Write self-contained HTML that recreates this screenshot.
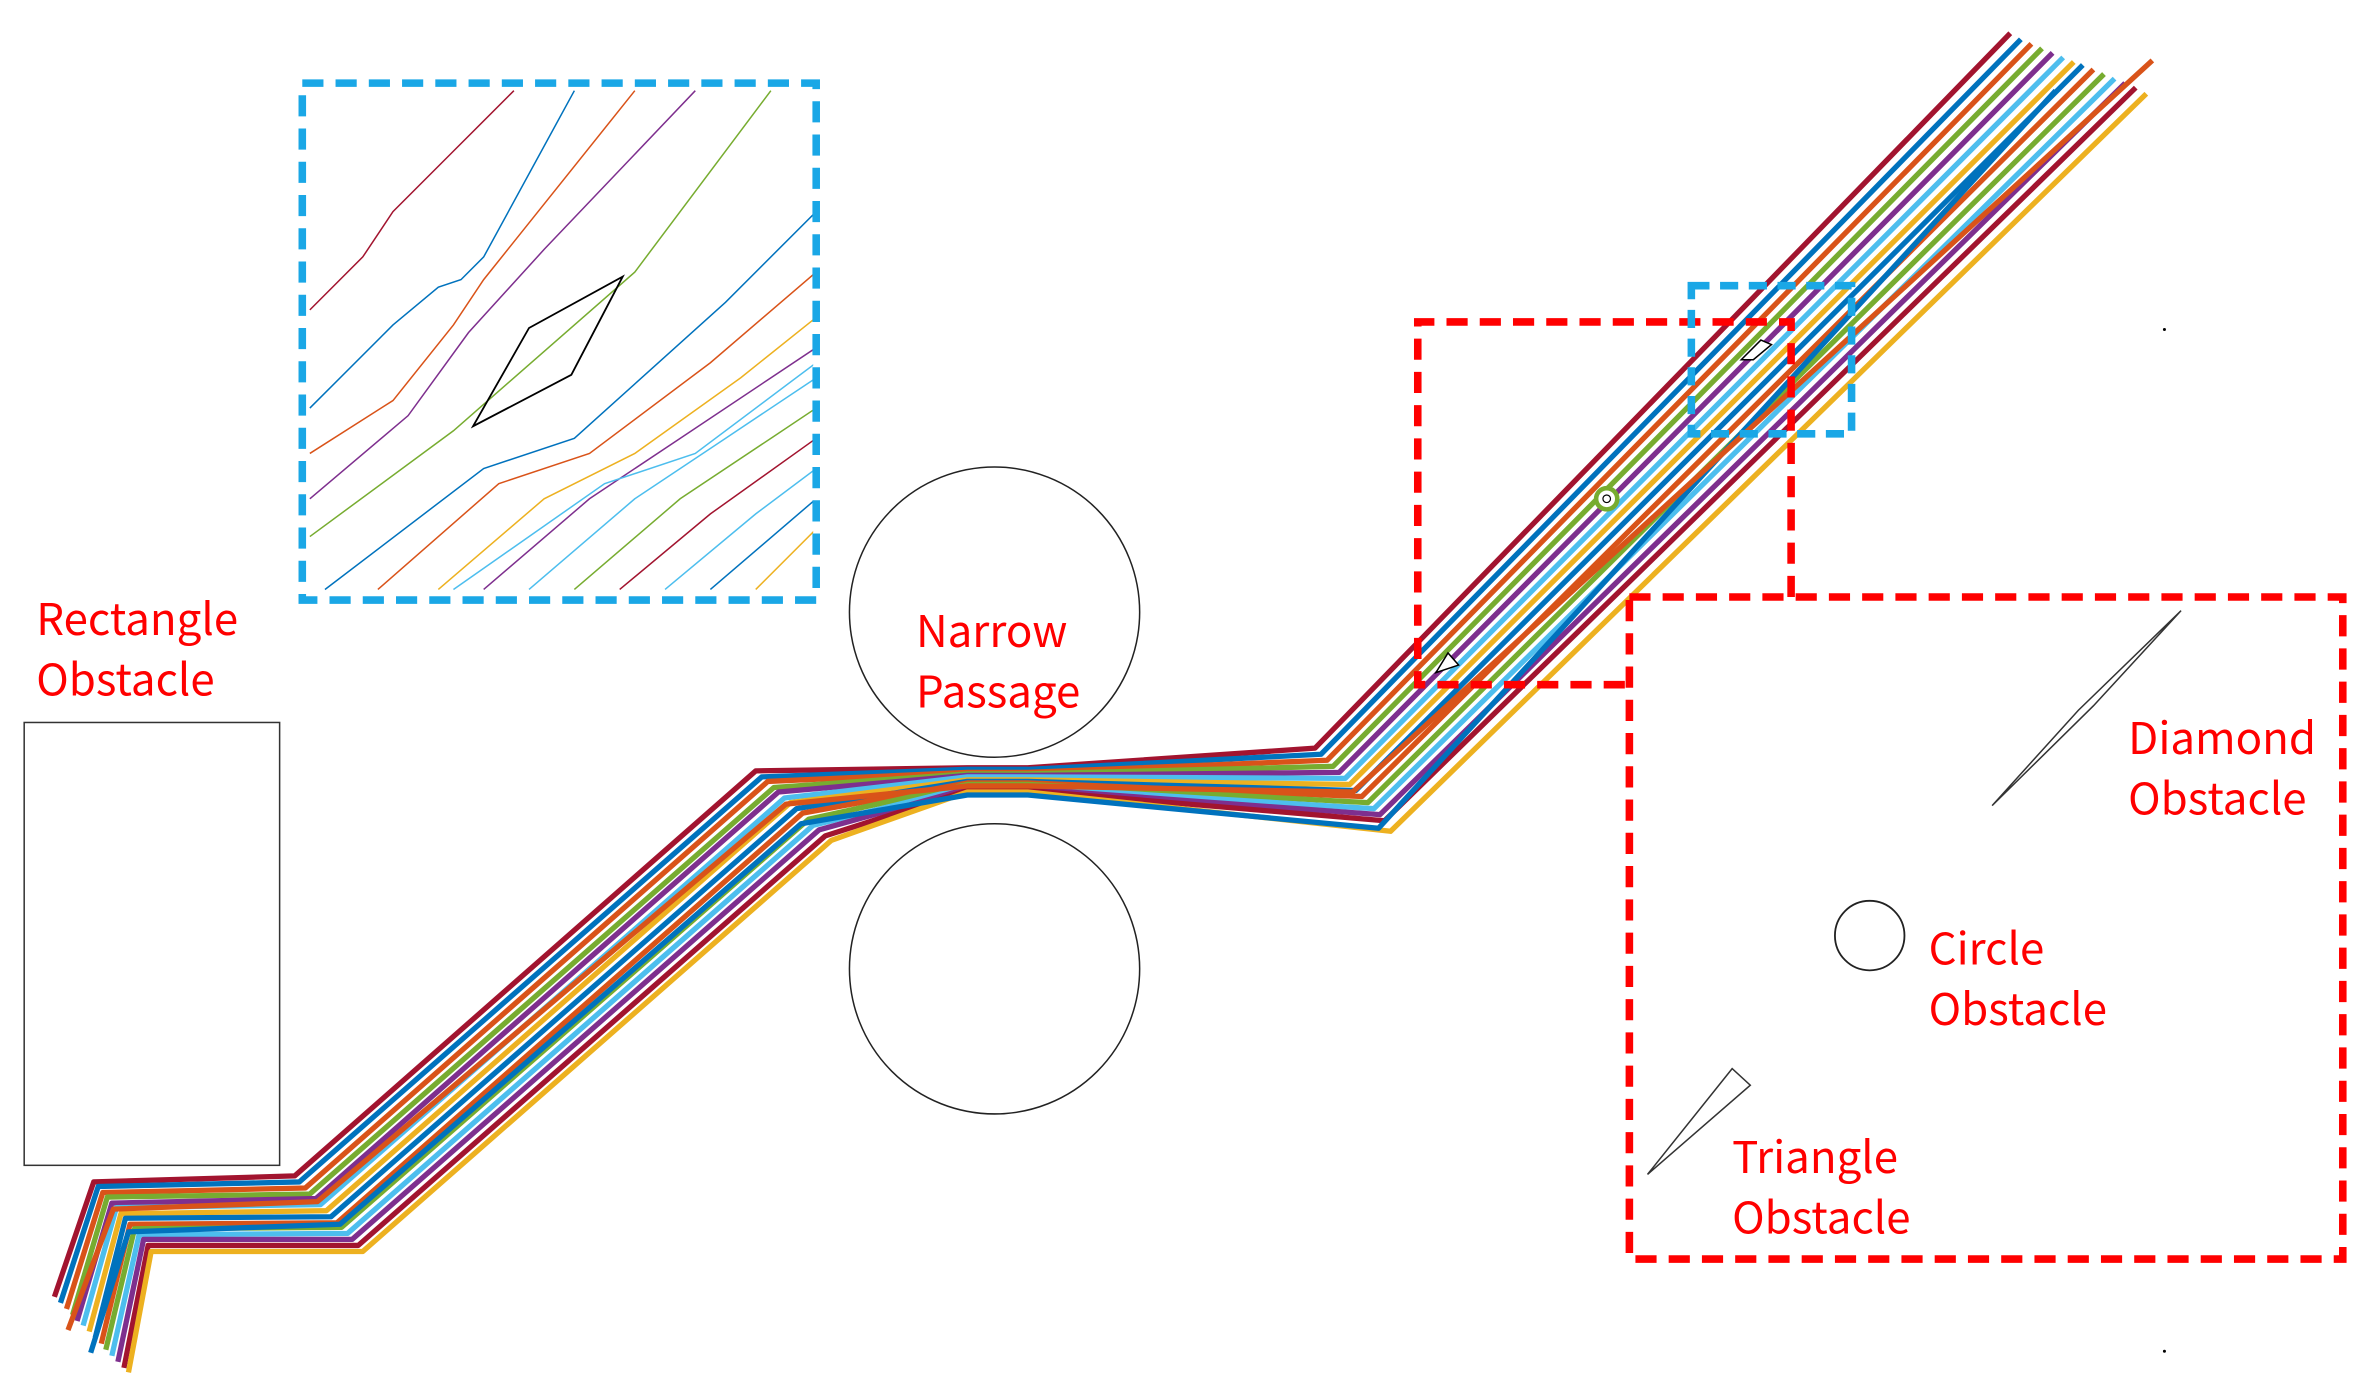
<!DOCTYPE html>
<html><head><meta charset="utf-8"><style>html,body{margin:0;padding:0;background:#fff}svg{display:block}</style></head>
<body>
<svg width="2370" height="1399" viewBox="0 0 1568 925.6" preserveAspectRatio="none" xmlns="http://www.w3.org/2000/svg">
<defs><clipPath id="c1"><rect x="202" y="57" width="336" height="338"/></clipPath></defs>
<rect width="1568" height="926" fill="#fff"/>
<g clip-path="url(#c1)" fill="none" stroke-width="1">
<polyline points="205,205 240,170 260,140 300,100 340,60" stroke="#A2142F"/>
<polyline points="205,270 260,215 290,190 305,185 320,170 380,60" stroke="#0072BD"/>
<polyline points="205,300 260,265 300,215 320,185 340,160 420,60" stroke="#D95319"/>
<polyline points="205,330 270,275 310,220 360,165 460,60" stroke="#7E2F8E"/>
<polyline points="205,355 300,285 420,180 510,60" stroke="#77AC30"/>
<polyline points="215,390 320,310 380,290 480,200 540,140" stroke="#0072BD"/>
<polyline points="250,390 330,320 390,300 470,240 540,180" stroke="#D95319"/>
<polyline points="290,390 360,330 420,300 490,250 540,210" stroke="#EDB120"/>
<polyline points="320,390 390,330 450,290 540,230" stroke="#7E2F8E"/>
<polyline points="350,390 420,330 480,290 540,250" stroke="#4DBEEE"/>
<polyline points="380,390 450,330 510,290 540,270" stroke="#77AC30"/>
<polyline points="410,390 470,340 540,290" stroke="#A2142F"/>
<polyline points="440,390 500,340 540,310" stroke="#4DBEEE"/>
<polyline points="470,390 540,330" stroke="#0072BD"/>
<polyline points="500,390 540,350" stroke="#EDB120"/>
<polyline points="300,390 400,320 460,300 540,240" stroke="#4DBEEE"/>
</g>
<polygon points="313,282 350,217 412,183 378,248" fill="none" stroke="#000" stroke-width="1.2"/>
<rect x="200" y="55" width="340" height="342" fill="none" stroke="#1AA7E6" stroke-width="5" stroke-dasharray="14,8"/>
<rect x="16" y="478" width="169" height="293" fill="none" stroke="#333" stroke-width="1"/>
<circle cx="658" cy="405" r="96" fill="none" stroke="#222" stroke-width="1"/>
<circle cx="658" cy="641" r="96" fill="none" stroke="#222" stroke-width="1"/>
<g fill="none" stroke-width="3.5" stroke-linejoin="round">
<polyline stroke="#A2142F" points="36,858 62,782 195,778 500,510 640,508 680,508 870,495 1330,22"/>
<polyline stroke="#0072BD" points="40,862 65,785 198,782 504,514 640,509 680,509 874,499 1337,26"/>
<polyline stroke="#D95319" points="44,866 68,789 202,786 508,517 640,511 680,511 878,503 1344,29"/>
<polyline stroke="#77AC30" points="48,870 71,792 205,790 512,521 640,512 680,512 882,507 1351,32"/>
<polyline stroke="#7E2F8E" points="51,874 74,796 209,793 515,524 640,513 680,513 886,511 1358,35"/>
<polyline stroke="#4DBEEE" points="55,877 77,799 212,797 519,528 640,514 680,514 890,515 1365,38"/>
<polyline stroke="#EDB120" points="59,881 80,803 216,801 523,531 640,516 680,516 893,519 1372,41"/>
<polyline stroke="#0072BD" points="63,885 83,806 219,805 527,535 640,517 680,517 897,523 1378,43"/>
<polyline stroke="#D95319" points="67,889 86,810 223,809 531,538 640,518 680,518 901,527 1385,46"/>
<polyline stroke="#77AC30" points="70,893 89,813 226,812 535,542 640,519 680,519 905,531 1392,49"/>
<polyline stroke="#4DBEEE" points="74,897 92,817 230,816 538,546 640,521 680,521 909,535 1399,52"/>
<polyline stroke="#7E2F8E" points="78,901 95,820 233,820 542,549 640,522 680,522 913,539 1406,55"/>
<polyline stroke="#A2142F" points="82,905 98,824 237,824 546,553 640,523 680,523 916,543 1413,58"/>
<polyline stroke="#EDB120" points="85,908 100,828 240,828 550,556 640,524 680,524 920,550 1420,62"/>
<polyline stroke="#0072BD" points="60,895 85,815 225,810 530,545 640,526 680,526 912,548 1360,60"/>
<polyline stroke="#D95319" points="45,880 75,800 210,795 520,532 640,520 680,520 895,524 1424,40"/>
</g>
<circle cx="1063" cy="330" r="7" fill="#fff" stroke="#77AC30" stroke-width="3"/>
<circle cx="1063" cy="330" r="2.5" fill="none" stroke="#000" stroke-width="0.8"/>
<polygon points="950,445 958,432 965,440" fill="#fff" stroke="#000" stroke-width="1"/>
<polygon points="1152,238 1165,225 1172,228 1160,238" fill="#fff" stroke="#000" stroke-width="1"/>
<polyline points="1185,395 1185,213 938,213 938,453 1078,453" fill="none" stroke="#F00" stroke-width="5" stroke-dasharray="14,8"/>
<rect x="1078" y="395" width="472" height="438" fill="none" stroke="#F00" stroke-width="5" stroke-dasharray="14,8"/>
<rect x="1119" y="189" width="106" height="98" fill="none" stroke="#1AA7E6" stroke-width="5" stroke-dasharray="12,7"/>
<polygon points="1318,533 1375,470 1443,404 1385,467" fill="none" stroke="#333" stroke-width="1"/>
<circle cx="1237" cy="619" r="23" fill="none" stroke="#222" stroke-width="1.2"/>
<polygon points="1090,777 1146,707 1158,718" fill="none" stroke="#333" stroke-width="1"/>
<circle cx="1432" cy="218" r="1" fill="#000"/>
<circle cx="1432" cy="894" r="1" fill="#000"/>
<g font-family="Noto Sans CJK SC, Liberation Sans, sans-serif" font-size="29" fill="#F00">
<text x="24" y="420">Rectangle</text><text x="24" y="460">Obstacle</text>
<text x="606" y="428">Narrow</text><text x="606" y="468">Passage</text>
<text x="1408" y="499">Diamond</text><text x="1408" y="539">Obstacle</text>
<text x="1276" y="638">Circle</text><text x="1276" y="678">Obstacle</text>
<text x="1146" y="776">Triangle</text><text x="1146" y="816">Obstacle</text>
</g>
</svg>
</body></html>
